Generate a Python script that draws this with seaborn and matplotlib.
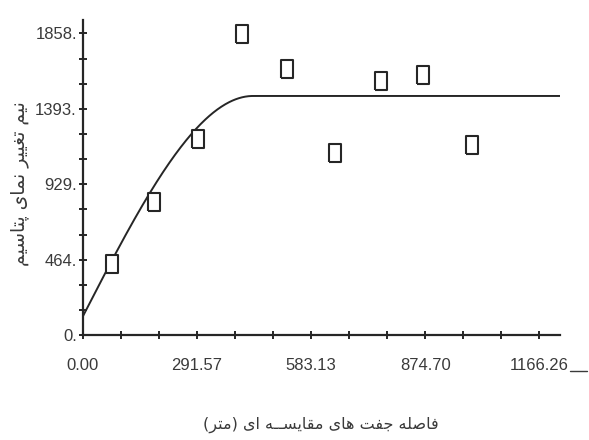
import numpy as np
import pandas as pd
import matplotlib
matplotlib.use("Agg")
import matplotlib.pyplot as plt
from matplotlib.lines import Line2D
import seaborn as sns

# Experimental semivariogram of potassium (lag distance in m, semivariance)
lag_distance = [74, 183, 295, 408, 522, 644, 763, 868, 993]
semivariance = [437, 818, 1208, 1853, 1639, 1120, 1565, 1602, 1171]

# Fitted spherical model
nugget = 113.0
sill = 1473.0
model_range = 435.0
x_max = 1219.0
y_max = 1941.0

x_ticks = [97.19 * i for i in range(13)]
x_tick_labels = ["0.00", "", "", "291.57", "", "", "583.13", "", "", "874.70", "", "", "1166.26"]
y_ticks = [154.83 * i for i in range(13)]
y_tick_labels = ["0.", "", "", "464.", "", "", "929.", "", "", "1393.", "", "", "1858."]

x_label = "فاصله جفت های مقایســه ای (متر)"
y_label = "نیم تغییر نمای پتاسیم"


# --- minimal Persian shaping (matplotlib has no complex text layout) ---
FORMS = {  # isolated, final, initial, medial
    "ا": ("\uFE8D", "\uFE8E", None, None),
    "ر": ("\uFEAD", "\uFEAE", None, None),
    "پ": ("\uFB56", "\uFB57", "\uFB58", "\uFB59"),
    "ت": ("\uFE95", "\uFE96", "\uFE97", "\uFE98"),
    "ج": ("\uFE9D", "\uFE9E", "\uFE9F", "\uFEA0"),
    "س": ("\uFEB1", "\uFEB2", "\uFEB3", "\uFEB4"),
    "ص": ("\uFEB9", "\uFEBA", "\uFEBB", "\uFEBC"),
    "غ": ("\uFECD", "\uFECE", "\uFECF", "\uFED0"),
    "ف": ("\uFED1", "\uFED2", "\uFED3", "\uFED4"),
    "ق": ("\uFED5", "\uFED6", "\uFED7", "\uFED8"),
    "ل": ("\uFEDD", "\uFEDE", "\uFEDF", "\uFEE0"),
    "م": ("\uFEE1", "\uFEE2", "\uFEE3", "\uFEE4"),
    "ن": ("\uFEE5", "\uFEE6", "\uFEE7", "\uFEE8"),
    "ه": ("\uFEE9", "\uFEEA", "\uFEEB", "\uFEEC"),
    "ی": ("\uFBFC", "\uFBFD", "\uFBFE", "\uFBFF"),
    "\u0640": ("\u0640", "\u0640", "\u0640", "\u0640"),
}
MIRROR = {"(": ")", ")": "("}


def dual(ch):
    return ch in FORMS and FORMS[ch][2] is not None


def shape_rtl(text):
    out = []
    for i, ch in enumerate(text):
        if ch not in FORMS:
            out.append(ch)
            continue
        prev_j = i > 0 and dual(text[i - 1])
        next_j = dual(ch) and i + 1 < len(text) and text[i + 1] in FORMS
        iso, fin, ini, med = FORMS[ch]
        if prev_j and next_j:
            out.append(med)
        elif prev_j:
            out.append(fin)
        elif next_j:
            out.append(ini)
        else:
            out.append(iso)
    return "".join(MIRROR.get(c, c) for c in reversed(out))


sns.set_theme(style="white")
plt.rcParams["font.family"] = ["Liberation Sans Narrow", "Liberation Sans", "DejaVu Sans"]

ink = "#262626"
text_c = "#3a3a3a"

fig = plt.figure(figsize=(5.89, 4.40), dpi=100)
ax = fig.add_axes([0.1404, 0.2386, 0.9508 - 0.1404, 0.9545 - 0.2386])

h = np.linspace(0, x_max, 600)
r = np.clip(h / model_range, 0, 1)
gamma = nugget + (sill - nugget) * (1.5 * r - 0.5 * r ** 3)
model_df = pd.DataFrame({"h": h, "gamma": gamma})
sns.lineplot(data=model_df, x="h", y="gamma", ax=ax, color=ink, linewidth=1.4)

pts = pd.DataFrame({"lag": lag_distance, "gamma": semivariance})
rect = [(-0.68, -1), (0.68, -1), (0.68, 1), (-0.68, 1), (-0.68, -1)]
sns.scatterplot(data=pts, x="lag", y="gamma", ax=ax, marker=rect, s=150,
                facecolor="white", edgecolor=ink, linewidth=1.5, zorder=3)

ax.set_xlim(0, x_max)
ax.set_ylim(0, y_max)
ax.set_xticks(x_ticks)
ax.set_xticklabels(x_tick_labels)
ax.set_yticks(y_ticks)
ax.set_yticklabels(y_tick_labels)

for side in ("top", "right"):
    ax.spines[side].set_visible(False)
for side in ("left", "bottom"):
    ax.spines[side].set_color(ink)
    ax.spines[side].set_linewidth(1.6)

ax.tick_params(axis="both", which="major", bottom=True, left=True,
               direction="inout", length=5.5, width=1.4, color=ink,
               labelcolor=text_c, labelsize=12)
ax.tick_params(axis="x", pad=14)
ax.tick_params(axis="y", pad=1.5)

ax.set_xlabel("")
ax.set_ylabel("")
fig.text(0.545, 1 - 425 / 440, shape_rtl(x_label), ha="center", va="center",
         fontsize=11.5, color=text_c, family=["DejaVu Sans"])
fig.text(20 / 589, 1 - 184 / 440, shape_rtl(y_label), ha="center", va="center",
         rotation=90, fontsize=13.5, color=text_c, family=["DejaVu Sans"])

# short rule trailing the last distance label
fig.canvas.draw()
last = ax.get_xticklabels()[-1]
bb = last.get_window_extent(fig.canvas.get_renderer())
fig.add_artist(Line2D([bb.x1 + 1, bb.x1 + 18], [bb.y0 + 2, bb.y0 + 2],
                      transform=None, color=text_c, linewidth=1.0))

fig.savefig("out.png", dpi=100, facecolor="white")
